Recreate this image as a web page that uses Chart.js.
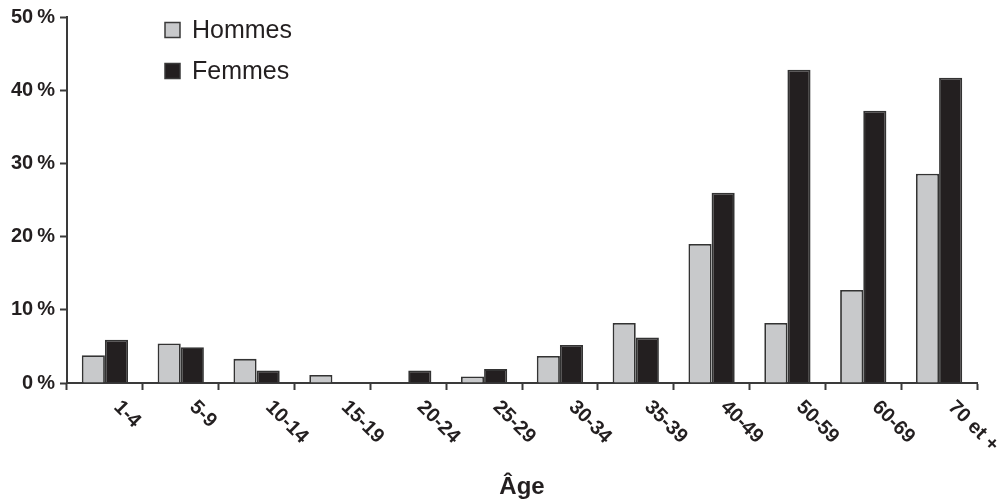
<!DOCTYPE html>
<html lang="fr">
<head>
<meta charset="utf-8">
<title>Répartition par âge</title>
<script src="https://cdn.jsdelivr.net/npm/chart.js@4/dist/chart.umd.min.js"></script>
<style>
  html, body { margin: 0; padding: 0; background: #ffffff; }
  #wrap { width: 1000px; height: 502px; }
  canvas { display: block; }
</style>
</head>
<body>
<div id="wrap"><canvas id="chart" width="1000" height="502"></canvas></div>
<script>
// Age groups on the horizontal axis
const ageGroups = ['1-4', '5-9', '10-14', '15-19', '20-24', '25-29', '30-34', '35-39', '40-49', '50-59', '60-69', '70 et +'];
// Percentages per age group
const hommes = [3.8, 5.4, 3.3, 1.1, 0, 0.9, 3.7, 8.2, 19.0, 8.2, 12.7, 28.6];
const femmes = [5.9, 4.9, 1.7, 0, 1.7, 1.9, 5.2, 6.2, 26.0, 42.8, 37.2, 41.7];
// Vertical axis
const yTicks = [0, 10, 20, 30, 40, 50];
const seriesNames = ['Hommes', 'Femmes'];

const INK = '#231f20';
const AXIS = '#3a3a3a';
const GREY = '#c8c9cb';

// Draws the slanted age labels and the legend box in the upper left
const decorations = {
  id: 'decorations',
  afterDraw(chart) {
    const ctx = chart.ctx;
    const xs = chart.scales.x;
    const bottom = chart.chartArea.bottom;

    ctx.save();
    ctx.fillStyle = INK;
    ctx.font = 'bold 20px "Liberation Sans", Arial, sans-serif';
    ctx.textAlign = 'left';
    ctx.textBaseline = 'middle';
    ageGroups.forEach((lab, i) => {
      const px = xs.getPixelForValue(i);
      ctx.save();
      ctx.translate(px + 12, bottom + 21);
      ctx.rotate(Math.PI / 4);
      ctx.fillText(lab, 0, 0);
      ctx.restore();
    });
    ctx.restore();

    ctx.save();
    ctx.font = '25px "Liberation Sans", Arial, sans-serif';
    ctx.textAlign = 'left';
    ctx.textBaseline = 'middle';
    chart.data.datasets.forEach((ds, i) => {
      const cy = 30 + i * 41;
      ctx.fillStyle = ds.backgroundColor;
      ctx.fillRect(165, cy - 7.5, 15, 15);
      ctx.strokeStyle = '#3a3a3a';
      ctx.lineWidth = 1.5;
      ctx.strokeRect(165, cy - 7.5, 15, 15);
      ctx.fillStyle = INK;
      ctx.fillText(ds.label, 192, cy + 1);
    });
    ctx.restore();
  }
};

new Chart(document.getElementById('chart'), {
  type: 'bar',
  data: {
    labels: ageGroups,
    datasets: [
      {
        label: seriesNames[0],
        data: hommes,
        backgroundColor: GREY,
        borderColor: '#333333',
        borderWidth: 1.8,
        categoryPercentage: 0.61,
        barPercentage: 1.0
      },
      {
        label: seriesNames[1],
        data: femmes,
        backgroundColor: INK,
        borderColor: '#333333',
        borderWidth: 1.8,
        categoryPercentage: 0.61,
        barPercentage: 1.0
      }
    ]
  },
  options: {
    responsive: false,
    animation: false,
    devicePixelRatio: 1,
    layout: { padding: { top: 16, right: 23, left: 0, bottom: 0 } },
    plugins: {
      legend: { display: false },
      tooltip: { enabled: false },
      title: { display: false }
    },
    scales: {
      x: {
        grid: {
          display: true,
          drawOnChartArea: false,
          drawTicks: true,
          tickLength: 7,
          tickWidth: 2,
          tickColor: AXIS,
          offset: true
        },
        border: { display: true, color: AXIS, width: 2 },
        ticks: { display: false },
        title: {
          display: true,
          text: 'Âge',
          color: INK,
          font: { family: '"Liberation Sans", Arial, sans-serif', size: 24, weight: 'bold' },
          padding: { top: 0, bottom: 0 }
        },
        afterFit(scale) { scale.height = 119; }
      },
      y: {
        min: yTicks[0],
        max: yTicks[yTicks.length - 1],
        afterBuildTicks(scale) { scale.ticks = yTicks.map(v => ({ value: v })); },
        grid: {
          display: true,
          drawOnChartArea: false,
          drawTicks: true,
          tickLength: 7,
          tickWidth: 2,
          tickColor: AXIS
        },
        border: { display: true, color: AXIS, width: 2 },
        ticks: {
          padding: 5,
          color: INK,
          font: { family: '"Liberation Sans", Arial, sans-serif', size: 20, weight: 'bold' },
          callback: v => v + '\u202F%'
        },
        afterFit(scale) { scale.width = 67; }
      }
    }
  },
  plugins: [decorations]
});
</script>
</body>
</html>
